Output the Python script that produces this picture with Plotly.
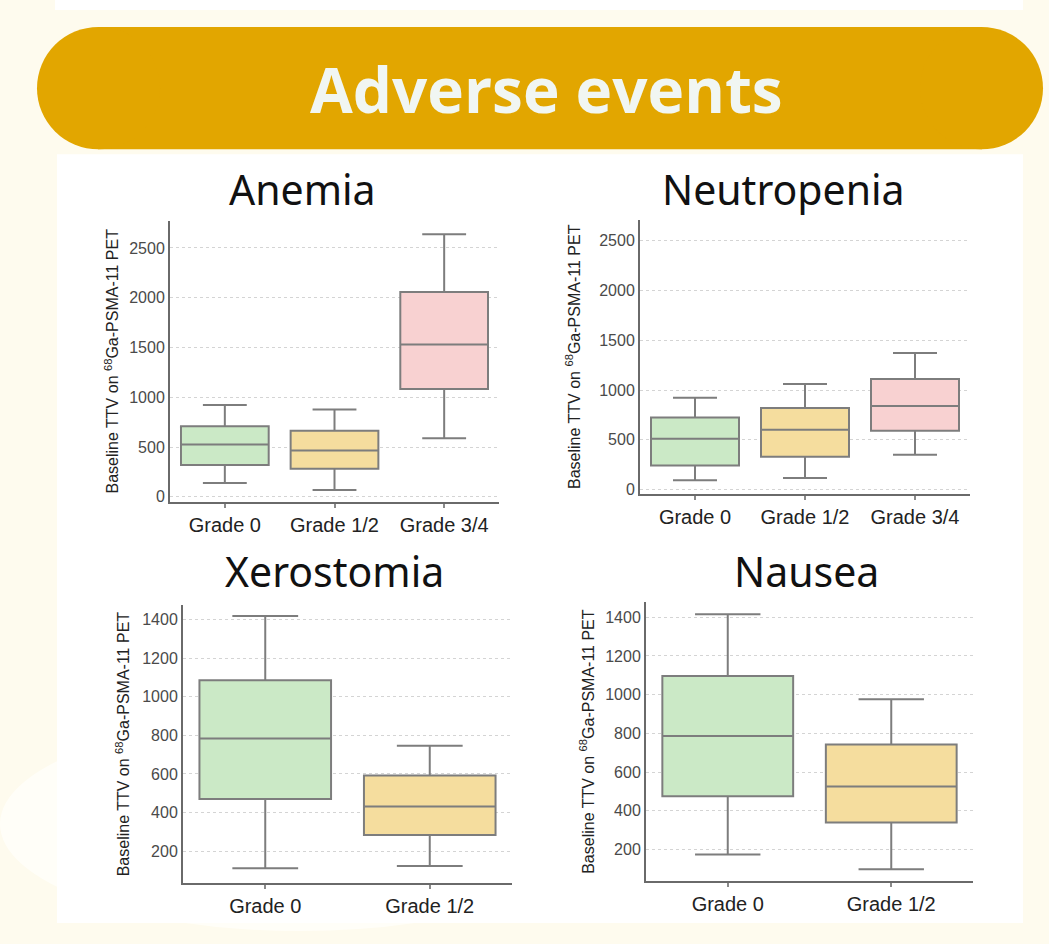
import plotly.graph_objects as go

W, H = 1049, 944

# ---------------- data ----------------
title_text = "Adverse events"
y_title = "Baseline TTV on <sup>68</sup>Ga-PSMA-11 PET"

anemia_title = "Anemia"
anemia_cats = ["Grade 0", "Grade 1/2", "Grade 3/4"]
anemia_low = [140, 70, 590]
anemia_q1 = [320, 283, 1083]
anemia_med = [527, 467, 1530]
anemia_q3 = [710, 663, 2057]
anemia_high = [923, 877, 2637]

neutro_title = "Neutropenia"
neutro_cats = ["Grade 0", "Grade 1/2", "Grade 3/4"]
neutro_low = [93, 117, 350]
neutro_q1 = [243, 330, 590]
neutro_med = [510, 600, 840]
neutro_q3 = [723, 820, 1110]
neutro_high = [923, 1060, 1373]

xero_title = "Xerostomia"
xero_cats = ["Grade 0", "Grade 1/2"]
xero_low = [111, 123]
xero_q1 = [470, 284]
xero_med = [784, 432]
xero_q3 = [1086, 592]
xero_high = [1419, 747]

nausea_title = "Nausea"
nausea_cats = ["Grade 0", "Grade 1/2"]
nausea_low = [174, 97]
nausea_q1 = [475, 339]
nausea_med = [786, 525]
nausea_q3 = [1097, 742]
nausea_high = [1416, 976]

ticks_big = [0, 500, 1000, 1500, 2000, 2500]
ticks_small = [200, 400, 600, 800, 1000, 1200, 1400]

# ---------------- styling ----------------
box_colors = ["#cbe9c6", "#f5dd9e", "#f8d1d1"]
line_color = "#7d7d7d"
bg_cream = "#fefbee"
gold = "#e2a600"


def px_x(p):
    return p / W


def px_y(p):
    return 1 - p / H


panels = [
    (anemia_title, anemia_cats, anemia_low, anemia_q1, anemia_med, anemia_q3, anemia_high,
     (170, 499), (222, 504), (-50, 2770), ticks_big, (302, 190), 112),
    (neutro_title, neutro_cats, neutro_low, neutro_q1, neutro_med, neutro_q3, neutro_high,
     (640, 970), (221, 496), (-43, 2707), ticks_big, (783, 190), 573),
    (xero_title, xero_cats, xero_low, xero_q1, xero_med, xero_q3, xero_high,
     (183, 512), (608, 887), (33.5, 1474), ticks_small, (334, 573), 123),
    (nausea_title, nausea_cats, nausea_low, nausea_q1, nausea_med, nausea_q3, nausea_high,
     (646, 973), (605, 885), (35, 1477), ticks_small, (806, 573), 587),
]

fig = go.Figure()
layout = {}
annotations = []

for i, (ttl, cats, lo, q1, med, q3, hi, xr, yr, yrange, ticks, tpos, ytx) in enumerate(panels):
    n = i + 1
    xa = "x" if n == 1 else f"x{n}"
    ya = "y" if n == 1 else f"y{n}"
    for j, c in enumerate(cats):
        fig.add_trace(go.Box(
            x=[c], q1=[q1[j]], median=[med[j]], q3=[q3[j]],
            lowerfence=[lo[j]], upperfence=[hi[j]],
            fillcolor=box_colors[j], line=dict(color=line_color, width=2),
            width=0.8, whiskerwidth=0.5, boxpoints=False,
            xaxis=xa, yaxis=ya, showlegend=False, hoverinfo="skip",
        ))
    xkey = "xaxis" if n == 1 else f"xaxis{n}"
    ykey = "yaxis" if n == 1 else f"yaxis{n}"
    layout[xkey] = dict(
        domain=[px_x(xr[0]), px_x(xr[1])], anchor=ya,
        type="category", categoryorder="array", categoryarray=cats,
        range=[-0.5, len(cats) - 0.5],
        showline=True, linecolor="#6a6a6a", linewidth=2,
        showgrid=False, zeroline=False,
        ticks="outside", ticklen=4, tickcolor="#8a8a8a", tickwidth=2,
        tickfont=dict(family="Liberation Sans, Arial, sans-serif", size=20, color="#222222"),
        fixedrange=True,
    )
    layout[ykey] = dict(
        domain=[px_y(yr[1]), px_y(yr[0])], anchor=xa,
        range=list(yrange), tickvals=ticks,
        showline=True, linecolor="#6a6a6a", linewidth=2,
        showgrid=True, gridcolor="#d4d4d4", griddash="dot", gridwidth=1,
        zeroline=False, ticks="",
        tickfont=dict(family="Liberation Sans, Arial, sans-serif", size=16, color="#4a4a4a"),
        fixedrange=True,
    )
    annotations.append(dict(
        text=ttl, x=px_x(tpos[0]), y=px_y(tpos[1]), xref="paper", yref="paper",
        xanchor="center", yanchor="middle", showarrow=False,
        font=dict(family="Noto Sans, sans-serif", size=41, color="#111111"),
    ))
    annotations.append(dict(
        text=y_title, x=px_x(ytx), y=px_y((yr[0] + yr[1]) / 2), xref="paper", yref="paper",
        xanchor="center", yanchor="middle", showarrow=False, textangle=-90,
        font=dict(family="Liberation Sans, Arial, sans-serif", size=16, color="#222222"),
    ))

annotations.append(dict(
    text="<b>" + title_text + "</b>", x=px_x(546), y=px_y(89), xref="paper", yref="paper",
    xanchor="center", yanchor="middle", showarrow=False,
    font=dict(family="Open Sans, sans-serif", size=62, color="#f1f6f2"),
))


def rect(x0, y0, x1, y1, color):
    return dict(type="rect", xref="paper", yref="paper", layer="below",
                x0=px_x(x0), x1=px_x(x1), y0=px_y(y1), y1=px_y(y0),
                fillcolor=color, line=dict(width=0))


def circle(x0, y0, x1, y1, color):
    return dict(type="circle", xref="paper", yref="paper", layer="below",
                x0=px_x(x0), x1=px_x(x1), y0=px_y(y1), y1=px_y(y0),
                fillcolor=color, line=dict(width=0))


shapes = [
    rect(55, 0, 1023, 10, "#ffffff"),
    circle(0, 720, 600, 935, "#fffef8"),
    rect(57, 155, 1023, 927, "#ffffff"),
    rect(98, 27, 982, 150, gold),
    circle(37, 27, 160, 150, gold),
    circle(920, 27, 1043, 150, gold),
]

fig.update_layout(
    width=W, height=H, margin=dict(l=0, r=0, t=0, b=0),
    paper_bgcolor=bg_cream, plot_bgcolor="#ffffff",
    boxmode="overlay", showlegend=False,
    annotations=annotations, shapes=shapes,
    **layout,
)

fig.write_html("out.html")
